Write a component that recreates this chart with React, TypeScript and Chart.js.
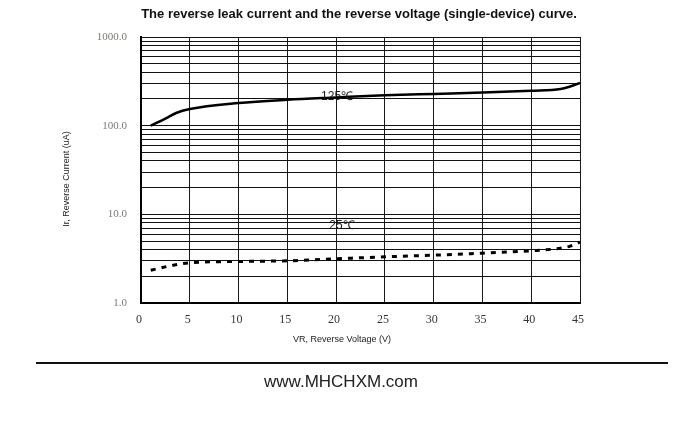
import React, { useEffect, useRef } from "react";
import { Chart, registerables } from "chart.js";

Chart.register(...registerables);

// ---- Data ----
const voltage125: number[] = [1, 2.6, 3.6, 5, 10, 15, 20, 25, 30, 35, 40, 43, 44, 45];
const current125: number[] = [100, 122, 139, 154, 180, 196, 208, 220, 228, 236, 248, 259, 277, 303];

const voltage25: number[] = [1, 3.3, 5, 10, 15, 20, 25, 30, 35, 40, 43, 44, 45];
const current25: number[] = [2.34, 2.67, 2.84, 2.94, 2.99, 3.15, 3.32, 3.46, 3.65, 3.88, 4.15, 4.38, 4.86];

const xTickValues: number[] = [0, 5, 10, 15, 20, 25, 30, 35, 40, 45];
const yMajorTicks: number[] = [1, 10, 100, 1000];

const seriesLabels = [
  { text: "125\u2103", x: 20.1, y: 212 },
  { text: "25\u2103", x: 20.6, y: 7.5 },
];

const titleText = "The reverse leak current and the reverse voltage (single-device) curve.";
const xTitle = "VR, Reverse Voltage (V)";
const yTitle = "Ir, Reverse Current (uA)";
const footerText = "www.MHCHXM.com";

// minor + major grid values for the log axis
const yGridValues: number[] = (() => {
  const out: number[] = [];
  for (let i = 0; i < yMajorTicks.length - 1; i++) {
    for (let k = 1; k <= 9; k++) out.push(k * yMajorTicks[i]);
  }
  out.push(yMajorTicks[yMajorTicks.length - 1]);
  return out;
})();

const decorPlugin = {
  id: "decor",
  afterDatasetsDraw(chart: any) {
    const ctx = chart.ctx;
    const xs = chart.scales.x;
    const ys = chart.scales.y;
    ctx.save();
    ctx.fillStyle = "#1a1a1a";
    ctx.font = "12px 'Liberation Sans', Arial, sans-serif";
    ctx.textAlign = "center";
    ctx.textBaseline = "middle";
    for (const l of seriesLabels) {
      ctx.fillText(l.text, xs.getPixelForValue(l.x), ys.getPixelForValue(l.y));
    }
    ctx.restore();
  },
  afterDraw(chart: any) {
    const ctx = chart.ctx;
    ctx.save();
    // title
    ctx.fillStyle = "#111";
    ctx.textAlign = "center";
    ctx.textBaseline = "middle";
    ctx.font = "bold 13px 'Liberation Sans', Arial, sans-serif";
    ctx.fillText(titleText, 359, 14);
    // x title
    ctx.font = "9px 'Liberation Sans', Arial, sans-serif";
    ctx.fillStyle = "#222";
    ctx.fillText(xTitle, 342, 340);
    // y title
    ctx.save();
    ctx.translate(67, 179);
    ctx.rotate(-Math.PI / 2);
    ctx.fillText(yTitle, 0, 0);
    ctx.restore();
    // separator line
    ctx.strokeStyle = "#111";
    ctx.lineWidth = 2;
    ctx.beginPath();
    ctx.moveTo(36, 363);
    ctx.lineTo(668, 363);
    ctx.stroke();
    // footer
    ctx.fillStyle = "#222";
    ctx.font = "17px 'Liberation Sans', Arial, sans-serif";
    ctx.fillText(footerText, 341, 382);
    ctx.restore();
  },
};

export default function App() {
  const ref = useRef<HTMLCanvasElement | null>(null);

  useEffect(() => {
    if (!ref.current) return;
    const chart = new Chart(ref.current, {
      type: "line",
      data: {
        datasets: [
          {
            label: "125\u2103",
            data: voltage125.map((v, i) => ({ x: v, y: current125[i] })),
            borderColor: "#000",
            borderWidth: 2.5,
            pointRadius: 0,
            cubicInterpolationMode: "monotone",
            fill: false,
          },
          {
            label: "25\u2103",
            data: voltage25.map((v, i) => ({ x: v, y: current25[i] })),
            borderColor: "#000",
            borderWidth: 3,
            borderDash: [5, 6],
            pointRadius: 0,
            cubicInterpolationMode: "monotone",
            fill: false,
          },
        ],
      },
      options: {
        responsive: false,
        animation: false,
        devicePixelRatio: 1,
        layout: { padding: { left: 0, right: 120, top: 37, bottom: 0 } },
        plugins: {
          legend: { display: false },
          title: { display: false },
          tooltip: { enabled: false },
        },
        scales: {
          x: {
            type: "linear",
            min: 0,
            max: 45,
            afterBuildTicks: (scale: any) => {
              scale.ticks = xTickValues.map((v) => ({ value: v }));
            },
            afterFit: (scale: any) => {
              scale.height = 121;
            },
            ticks: {
              autoSkip: false,
              padding: 10,
              labelOffset: -2,
              color: "#3a3046",
              font: { family: "'Liberation Serif', 'DejaVu Serif', serif", size: 12 },
            },
            grid: { color: "#1a1a1a", lineWidth: 1, drawTicks: false },
            border: { color: "#000", width: 2 },
          },
          y: {
            type: "logarithmic",
            min: 1,
            max: 1000,
            afterBuildTicks: (scale: any) => {
              scale.ticks = yGridValues.map((v) => ({ value: v }));
            },
            afterFit: (scale: any) => {
              scale.width = 141;
            },
            ticks: {
              autoSkip: false,
              padding: 14,
              color: "#7a7a72",
              font: { family: "'Liberation Serif', 'DejaVu Serif', serif", size: 11 },
              callback: (value: any) =>
                yMajorTicks.includes(Number(value)) ? Number(value).toFixed(1) : "",
            },
            grid: { color: "#111", lineWidth: 1, drawTicks: false },
            border: { color: "#000", width: 2 },
          },
        },
      },
      plugins: [decorPlugin],
    } as any);
    return () => chart.destroy();
  }, []);

  return (
    <div style={{ position: "fixed", left: 0, top: 0, width: 700, height: 424, background: "#fff" }}>
      <canvas ref={ref} width={700} height={424} style={{ display: "block", width: 700, height: 424 }} />
    </div>
  );
}
